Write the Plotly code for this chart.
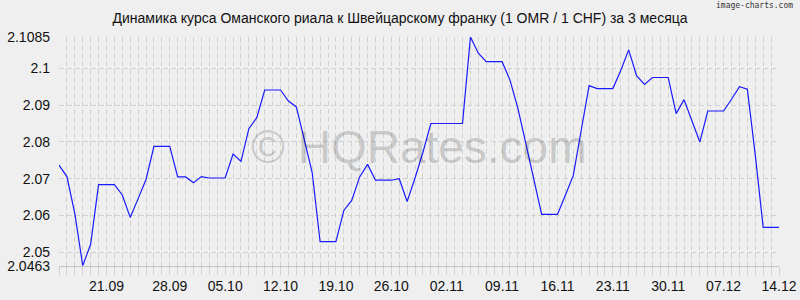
import plotly.graph_objects as go

# index of each daily observation (0 .. 91)
day_index = list(range(92))

rate = [
    2.0737, 2.0706, 2.0605, 2.0464, 2.0522, 2.0684, 2.0684, 2.0684, 2.0656, 2.0595,
    2.0646, 2.0698, 2.0788, 2.0788, 2.0788, 2.0705, 2.0705, 2.0689, 2.0706, 2.0702,
    2.0702, 2.0702, 2.0767, 2.0747, 2.0836, 2.0866, 2.0941, 2.0941, 2.0941, 2.0911,
    2.0895, 2.0806, 2.0717, 2.0529, 2.0529, 2.0529, 2.0614, 2.0641, 2.0705, 2.0739,
    2.0696, 2.0696, 2.0696, 2.0700, 2.0638, 2.0702, 2.0772, 2.0850, 2.0850, 2.0850,
    2.0850, 2.0850, 2.1085, 2.1041, 2.1018, 2.1018, 2.1018, 2.0968, 2.0891, 2.0796,
    2.0699, 2.0603, 2.0603, 2.0603, 2.0655, 2.0709, 2.0831, 2.0953, 2.0945, 2.0945,
    2.0945, 2.0994, 2.1050, 2.0980, 2.0956, 2.0975, 2.0975, 2.0975, 2.0877, 2.0915,
    2.0857, 2.0800, 2.0884, 2.0884, 2.0884, 2.0916, 2.0950, 2.0943, 2.0765, 2.0568,
    2.0568, 2.0568,
]

x_tick_pos = [6, 14, 21, 28, 35, 42, 49, 56, 63, 70, 77, 84, 91]
x_tick_labels = ["21.09", "28.09", "05.10", "12.10", "19.10", "26.10", "02.11",
                 "09.11", "16.11", "23.11", "30.11", "07.12", "14.12"]

y_tick_vals = [2.0463, 2.05, 2.06, 2.07, 2.08, 2.09, 2.1, 2.1085]
y_tick_labels = ["2.0463", "2.05", "2.06", "2.07", "2.08", "2.09", "2.1", "2.1085"]

title_text = "Динамика курса Оманского риала к Швейцарскому франку (1 OMR / 1 CHF) за 3 месяца"

BG = "#efefef"
GRID = "#d2d2d2"
FONT = "Liberation Sans, Arial, sans-serif"

fig = go.Figure()
fig.add_trace(go.Scatter(
    x=day_index, y=rate, mode="lines",
    line=dict(color="#1a1aff", width=1.2),
    hoverinfo="skip", showlegend=False,
))

fig.update_layout(
    width=800, height=300,
    margin=dict(l=59, r=21, t=37, b=34),
    paper_bgcolor=BG, plot_bgcolor=BG,
    font=dict(family=FONT, size=14, color="#111111"),
    title=dict(text=title_text, x=0.5, xanchor="center", y=0.94, yanchor="middle",
               font=dict(family=FONT, size=14, color="#111111")),
    showlegend=False,
)

fig.update_xaxes(
    range=[0, 91], showline=True, linecolor="#c4c4c4", linewidth=1,
    tickmode="array", tickvals=x_tick_pos, ticktext=x_tick_labels,
    ticks="", showgrid=False, zeroline=False, automargin=False,
    ticklabelstandoff=7,
    minor=dict(tick0=0, dtick=1, showgrid=True, gridcolor=GRID, griddash="5px,3px",
               gridwidth=1, ticks="outside", ticklen=8, tickcolor=GRID, tickwidth=1),
)
fig.update_yaxes(
    range=[2.0463, 2.1085], tickmode="array", tickvals=y_tick_vals, ticktext=y_tick_labels,
    showgrid=True, gridcolor=GRID, griddash="5px,3px", gridwidth=1, automargin=False,
    ticks="", zeroline=False, showline=False, ticklabelstandoff=8,
)

fig.add_annotation(
    text="© HQRates.com", xref="paper", yref="paper", x=0.5, y=0.52,
    xanchor="center", yanchor="middle", showarrow=False,
    font=dict(family=FONT, size=46, color="rgba(0,0,0,0.17)"),
)
fig.add_annotation(
    text="image-charts.com", xref="paper", yref="paper", x=1.0, y=1.0,
    xanchor="right", yanchor="top", yshift=38, xshift=16, showarrow=False,
    font=dict(family="DejaVu Sans Mono, monospace", size=8, color="#333333"),
)

fig.write_html("out.html")
